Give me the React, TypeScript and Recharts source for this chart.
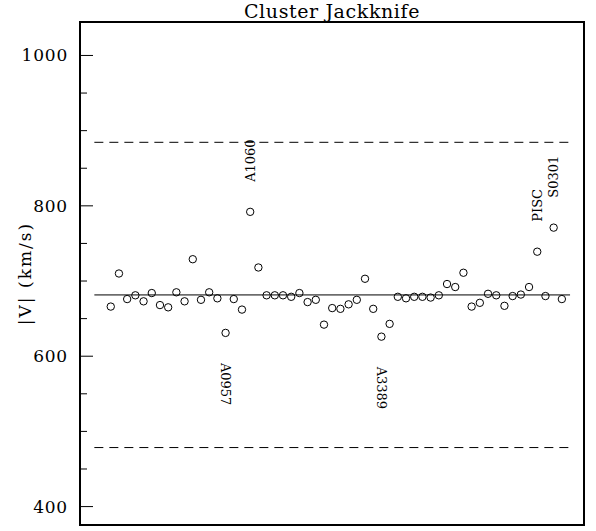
import { ScatterChart, Scatter, XAxis, YAxis, ReferenceLine, ReferenceArea } from 'recharts';

// |V| for each cluster left out of the jackknife, in order
const velocities = [
  666, 710, 676, 681, 673, 684, 668, 665, 685, 673,
  729, 675, 685, 677, 631, 676, 662, 792, 718, 681,
  681, 681, 679, 684, 672, 675, 642, 664, 663, 669,
  675, 703, 663, 626, 643, 679, 677, 679, 679, 678,
  681, 696, 692, 711, 666, 671, 683, 681, 667, 680,
  682, 692, 739, 680, 771, 676,
];

// clusters named on the plot (1-based position in the list)
const outlierNames = ['A0957', 'A1060', 'A3389', 'PISC', 'S0301'];
const outlierIndex = [15, 18, 34, 53, 55];

const meanV = 681.5;
const upperV = 884.5;
const lowerV = 478.5;

const yTicks = [400, 450, 500, 550, 600, 650, 700, 750, 800, 850, 900, 950, 1000];

const PLOT_LEFT = 80;
const PLOT_RIGHT = 584;
const FONT = '"DejaVu Serif", serif';

const points = velocities.map((v, i) => {
  const k = outlierIndex.indexOf(i + 1);
  return { x: i + 1, v, name: k >= 0 ? outlierNames[k] : '' };
});

const PointShape = (props: any) => {
  const { cx, cy, payload } = props;
  const up = payload.v > meanV;
  const ly = up ? cy - 30 : cy + 30;
  return (
    <g>
      <circle cx={cx} cy={cy} r={3.7} fill="none" stroke="#000" strokeWidth={1} />
      {payload.name && (
        <text
          x={cx}
          y={ly}
          transform={`rotate(${up ? -90 : 90} ${cx} ${ly})`}
          textAnchor="start"
          dominantBaseline="central"
          fontFamily={FONT}
          fontSize={13}
          fill="#000"
        >
          {payload.name}
        </text>
      )}
    </g>
  );
};

const LeftTick = (props: any) => {
  const { y, payload } = props;
  const major = payload.value % 200 === 0;
  return (
    <g>
      <line x1={PLOT_LEFT} x2={PLOT_LEFT + (major ? 13 : 7)} y1={y} y2={y} stroke="#000" strokeWidth={1} />
      {major && (
        <text x={68} y={y} textAnchor="end" dominantBaseline="central" fontFamily={FONT} fontSize={17} letterSpacing={0.8} fill="#000">
          {payload.value}
        </text>
      )}
    </g>
  );
};

const RightTick = (props: any) => {
  const { y, payload } = props;
  const major = payload.value % 200 === 0;
  return (
    <line x1={PLOT_RIGHT} x2={PLOT_RIGHT - (major ? 13 : 7)} y1={y} y2={y} stroke="#000" strokeWidth={1} />
  );
};

export default function App() {
  return (
    <div style={{ position: 'absolute', left: 0, top: 0, width: 596, height: 531, background: '#fff' }}>
      <ScatterChart width={596} height={531} margin={{ top: 22, right: 2, bottom: 6, left: 0 }}>
        <XAxis type="number" dataKey="x" domain={[-2.75, 58.7]} hide />
        <YAxis
          yAxisId="l"
          type="number"
          dataKey="v"
          domain={[375.5, 1044.5]}
          ticks={yTicks}
          width={80}
          axisLine={false}
          tickLine={false}
          tick={<LeftTick />}
          interval={0}
        />
        <YAxis
          yAxisId="r"
          orientation="right"
          type="number"
          domain={[375.5, 1044.5]}
          ticks={yTicks}
          width={10}
          axisLine={false}
          tickLine={false}
          tick={<RightTick />}
          interval={0}
        />
        <ReferenceArea yAxisId="l" x1={-2.75} x2={58.7} y1={375.5} y2={1044.5} fill="none" stroke="#000" strokeWidth={2} />
        <ReferenceLine yAxisId="l" segment={[{ x: -1, y: upperV }, { x: 57, y: upperV }]} stroke="#000" strokeDasharray="9 6" strokeWidth={1} />
        <ReferenceLine yAxisId="l" segment={[{ x: -1, y: meanV }, { x: 57, y: meanV }]} stroke="#000" strokeWidth={1} />
        <ReferenceLine yAxisId="l" segment={[{ x: -1, y: lowerV }, { x: 57, y: lowerV }]} stroke="#000" strokeDasharray="9 6" strokeWidth={1} />
        <Scatter yAxisId="l" data={points} shape={<PointShape />} isAnimationActive={false} />
        <text x={332} y={18} textAnchor="middle" fontFamily={FONT} fontSize={19} letterSpacing={0.6} fill="#000">
          Cluster Jackknife
        </text>
        <text
          x={25}
          y={273.5}
          transform="rotate(-90 25 273.5)"
          textAnchor="middle"
          dominantBaseline="central"
          fontFamily={FONT}
          fontSize={17}
          letterSpacing={2}
          fill="#000"
        >
          |V| (km/s)
        </text>
      </ScatterChart>
    </div>
  );
}
